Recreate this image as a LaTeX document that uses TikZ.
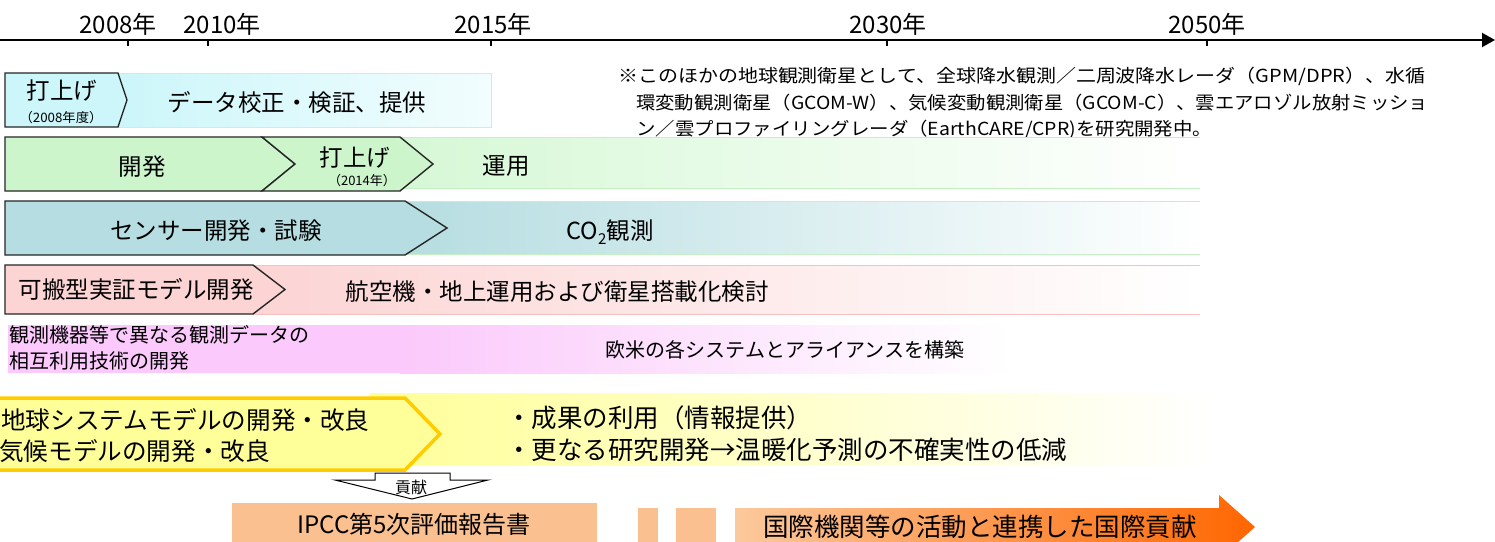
\documentclass[tikz,border=0pt]{standalone}
\usepackage{fontspec}
\usepackage{graphicx}
\setmainfont{Noto Sans CJK JP}
\usetikzlibrary{arrows.meta}
\definecolor{cAfill}{HTML}{CCF6FA}
\definecolor{cAend}{HTML}{F2FDFE}
\definecolor{cAline}{HTML}{BDF0F7}
\definecolor{cBfill}{HTML}{CCF5CC}
\definecolor{cBband}{HTML}{D6F8D6}
\definecolor{cBline}{HTML}{C4F0C4}
\definecolor{cCfill}{HTML}{B6DDE1}
\definecolor{cDfill}{HTML}{FCD4D4}
\definecolor{cDline}{HTML}{F9C0C0}
\definecolor{cEfill}{HTML}{FBC9FB}
\definecolor{cFfill}{HTML}{FFFF99}
\definecolor{cFline}{HTML}{FFCC00}
\definecolor{cIpcc}{HTML}{FAC090}
\definecolor{cArrL}{HTML}{FCC99C}
\definecolor{cArrR}{HTML}{FF6600}
\begin{document}
\begin{tikzpicture}[x=1pt,y=-1pt,
  chev/.style={draw=black!85,line width=1.4pt,line join=miter},
  big/.style={inner sep=0pt,font=\fontsize{23.5}{26}\selectfont},
  bigger/.style={inner sep=0pt,font=\fontsize{25.5}{28}\selectfont},
  biggerL/.style={inner sep=0pt,font=\fontsize{24.6}{28}\selectfont},
  mid/.style={inner sep=0pt,font=\fontsize{20}{23}\selectfont},
  small/.style={inner sep=0pt,font=\fontsize{13}{15}\selectfont},
  note/.style={inner sep=0pt,anchor=west,font=\fontsize{18}{21}\selectfont},
  yearlbl/.style={inner sep=0pt,font=\fontsize{24}{26}\selectfont},
  tickmark/.style={line width=1.3pt},
  bandline/.style={line width=1pt}]
\useasboundingbox (0,0) rectangle (1495,541);
\fill[white] (0,0) rectangle (1495,541);

% axis
\coordinate (axL) at (0,40);
\coordinate (axR) at (1495,40);
\draw[line width=2pt,-{Triangle[length=13pt,width=14pt]}] (axL) -- (axR);
\foreach \x in {128,208,491,887,1207}{\draw[tickmark] (\x,40) -- (\x,46);}
\node[yearlbl] (y2008) at (118,24) {2008年};
\node[yearlbl] (y2010) at (222,24) {2010年};
\node[yearlbl] (y2015) at (493,24) {2015年};
\node[yearlbl] (y2030) at (888,24) {2030年};
\node[yearlbl] (y2050) at (1207,24) {2050年};

% note
\node[note] (n1) at (618,76) {\resizebox{807pt}{\height}{※このほかの地球観測衛星として、全球降水観測／二周波降水レーダ（GPM/DPR）、水循}};
\node[note] (n2) at (636,103) {\resizebox{792pt}{\height}{環変動観測衛星（GCOM-W）、気候変動観測衛星（GCOM-C）、雲エアロゾル放射ミッショ}};
\node[note] (n3) at (636,130) {\resizebox{576pt}{\height}{ン／雲プロファイリングレーダ（EarthCARE/CPR)を研究開発中。}};

% row 1
\shade[left color=cAfill,right color=cAend] (118,73) rectangle (491,127);
\draw[cAline,bandline] (118,73) rectangle (491,127);
\filldraw[chev,fill=cAfill] (5,73) -- (118,73) -- (127,100) -- (118,127) -- (5,127) -- cycle;
\node[big] (r1a) at (62,90) {打上げ};
\node[small] (r1b) at (61,118) {\resizebox{83pt}{\height}{（2008年度）}};
\node[big] (r1c) at (297,102) {データ校正・検証、提供};

% row 2
\shade[left color=cBband,right color=white] (400,137) rectangle (1200,188);
\draw[cBline,bandline] (400,137) -- (1200,137) (400,188) -- (1200,188);
\filldraw[chev,fill=cBfill] (5,137) -- (262,137) -- (295,164) -- (262,191) -- (5,191) -- cycle;
\filldraw[chev,fill=cBfill] (262,137) -- (400,137) -- (433,164) -- (400,191) -- (262,191) -- (295,164) -- cycle;
\node[big] (r2a) at (142,167) {開発};
\node[big] (r2b) at (355,157) {打上げ};
\node[small] (r2c) at (362,181) {\resizebox{68pt}{\height}{（2014年）}};
\node[big] (r2d) at (506,166) {運用};

% row 3
\shade[left color=cCfill,middle color=cCfill!40,right color=white] (405,201) rectangle (1200,254);
\draw[cBline,bandline] (405,201) -- (1200,201) (405,254) -- (1200,254);
\filldraw[chev,fill=cCfill] (5,201) -- (405,201) -- (447,228) -- (405,255) -- (5,255) -- cycle;
\node[big] (r3a) at (216,231) {センサー開発・試験};
\node[big] (r3b) at (610,232) {CO\raisebox{-0.35ex}{\fontsize{15}{15}\selectfont 2}観測};

% row 4
\shade[left color=cDfill,right color=white] (253,265) rectangle (1200,314);
\draw[cDline,bandline] (253,265) -- (1200,265) (253,314) -- (1200,314);
\filldraw[chev,fill=cDfill] (5,265) -- (253,265) -- (285,289.5) -- (253,314) -- (5,314) -- cycle;
\node[big] (r4a) at (136,289) {可搬型実証モデル開発};
\node[big] (r4b) at (557,292) {航空機・地上運用および衛星搭載化検討};

% row 5
\fill[cEfill] (8,325) rectangle (400,373);
\shade[left color=cEfill,middle color=cEfill!55,right color=white] (400,325) rectangle (1010,373);
\node[mid,anchor=west] (r5a) at (9,335) {観測機器等で異なる観測データの};
\node[mid,anchor=west] (r5b) at (9,361) {相互利用技術の開発};
\node[mid] (r5c) at (785,350) {欧米の各システムとアライアンスを構築};

% row 6
\shade[left color=cFfill,right color=white] (370,393) rectangle (1215,465);
\filldraw[draw=cFline,line width=3.5pt,fill=cFfill,line join=miter] (-10,398) -- (405,398) -- (440,434) -- (405,470) -- (-10,470) -- cycle;
\node[biggerL,anchor=west] (r6a) at (1,420) {地球システムモデルの開発・改良};
\node[biggerL,anchor=west] (r6b) at (-1,451) {気候モデルの開発・改良};
\node[bigger,anchor=west] (r6c) at (506,418) {・成果の利用（情報提供）};
\node[bigger,anchor=west] (r6d) at (506,450) {・更なる研究開発→温暖化予測の不確実性の低減};

% contribution arrow
\filldraw[draw=black,fill=white,line width=1pt,line join=miter] (375,473) -- (450,473) -- (450,480) -- (488,480) -- (412,499) -- (335,480) -- (375,480) -- cycle;
\node[inner sep=0pt,font=\fontsize{16}{18}\selectfont] (kouken) at (411,487) {貢献};

% bottom
\fill[cIpcc] (232,503) rectangle (597,545);
\node[inner sep=0pt,font=\fontsize{24}{26}\selectfont] (ipcc) at (414,524) {IPCC第5次評価報告書};
\fill[cIpcc] (638,508) rectangle (658,545);
\fill[cIpcc] (676,508) rectangle (716,545);
\shade[left color=cArrL,right color=cArrR] (735,508) -- (1219,508) -- (1219,495) -- (1255,527) -- (1219,559) -- (1219,546) -- (735,546) -- cycle;
\node[inner sep=0pt,font=\fontsize{25.5}{28}\selectfont] (intl) at (980,527) {国際機関等の活動と連携した国際貢献};
\end{tikzpicture}
\end{document}
